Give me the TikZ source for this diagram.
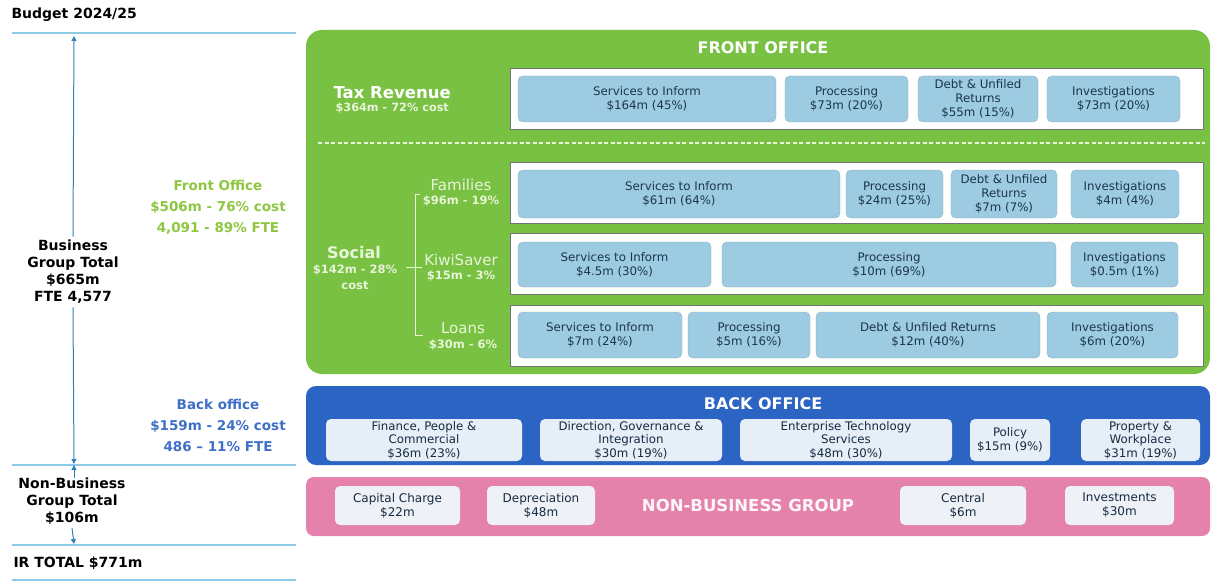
\documentclass[tikz,border=0pt]{standalone}
\usepackage{fontspec}
\setmainfont{DejaVu Sans}
\usetikzlibrary{arrows.meta}
\definecolor{fogreen}{HTML}{79C143}
\definecolor{boxblue}{HTML}{9DCBE2}
\definecolor{boxtext}{HTML}{1B3550}
\definecolor{boblue}{HTML}{2C64C4}
\definecolor{bobox}{HTML}{E6EEF7}
\definecolor{nbpink}{HTML}{E582AC}
\definecolor{nbbox}{HTML}{EEF1F6}
\definecolor{lgreen}{HTML}{8DC63F}
\definecolor{lblue}{HTML}{3E6FC7}
\definecolor{rule}{HTML}{8FCAE6}
\definecolor{arrowblue}{HTML}{2F7FB8}
\definecolor{palegreen}{HTML}{E8F5D8}
\begin{document}
\begin{tikzpicture}[x=1pt,y=-1pt,
  panel/.style={draw=none, inner sep=0pt, rounded corners=#1},
  rowbox/.style={draw=black!55, line width=0.8pt, fill=white, inner sep=0pt, minimum height=61pt, minimum width=693pt},
  svc/.style={fill=boxblue, draw=boxblue!85!black, line width=0.4pt, rounded corners=5pt, inner sep=0pt, align=center,
     text=boxtext, font=\fontsize{11.8}{14}\selectfont},
  bob/.style={fill=bobox, draw=none, rounded corners=5pt, inner sep=0pt, align=center,
     text=boxtext!80!black, font=\fontsize{11.8}{13.5}\selectfont},
  nbb/.style={fill=nbbox, draw=none, rounded corners=5pt, inner sep=0pt, align=center,
     text=boxtext!80!black, font=\fontsize{12}{14}\selectfont},
  ttl/.style={text=white, font=\bfseries\fontsize{16}{18}\selectfont},
  hrule/.style={draw=rule, line width=1.3pt},
  arr/.style={draw=arrowblue, line width=1pt, -{Triangle[length=5pt,width=5pt]}},
  lefttxt/.style={align=center, font=\bfseries\fontsize{14}{17}\selectfont},
  seglab/.style={align=center, text=palegreen, font=\fontsize{15}{17}\selectfont},
  segsub/.style={text=palegreen, font=\bfseries\fontsize{11.5}{13}\selectfont},
  brk/.style={draw=palegreen, line width=1pt}
]
\useasboundingbox (0,0) rectangle (1212,583);

% ---------- left column ----------
\node[anchor=west, font=\bfseries\fontsize{14}{16}\selectfont] (budget) at (8,15) {Budget 2024/25};
\coordinate (l1a) at (12,33); \coordinate (l1b) at (296,33);
\coordinate (l2a) at (12,465); \coordinate (l2b) at (296,465);
\coordinate (l3a) at (12,545); \coordinate (l3b) at (296,545);
\coordinate (l4a) at (12,580); \coordinate (l4b) at (296,580);
\draw[hrule] (l1a) -- (l1b);
\draw[hrule] (l2a) -- (l2b);
\draw[hrule] (l3a) -- (l3b);
\draw[draw=rule, line width=2.6pt] (l4a) -- (l4b);

\node[lefttxt] (bgt) at (73,272) {Business\\Group Total\\\$665m\\FTE 4,577};
\coordinate (topend) at (74,36);
\coordinate (midend) at (74,464);
\coordinate (midstart) at (74,478);
\coordinate (botend) at (74,544);
\draw[arr] (bgt.north) -- (topend);
\draw[arr] (bgt.south) -- (midend);
\node[lefttxt] (nbg) at (72,501) {Non-Business\\Group Total\\\$106m};
\draw[arr] (midstart) -- ([yshift=-1pt]midend);
\draw[arr] (nbg.south) -- (botend);
\node[anchor=west, font=\bfseries\fontsize{14}{16}\selectfont] (irt) at (10,563) {IR TOTAL \$771m};

\node[align=center, text=lgreen, font=\bfseries\fontsize{13.5}{21}\selectfont] (fot) at (218,207) {Front Office\\\$506m - 76\% cost\\4,091 - 89\% FTE};
\node[align=center, text=lblue, font=\bfseries\fontsize{13.5}{21}\selectfont] (bot) at (218,425) {Back office\\\$159m - 24\% cost\\486 – 11\% FTE};

% ---------- front office panel ----------
\node[panel=16pt, fill=fogreen, minimum width=904pt, minimum height=344pt] (front) at (758,202) {};
\node[ttl] (frontt) at (763,48) {FRONT OFFICE};

\node[anchor=west, text=white, font=\bfseries\fontsize{16.5}{18}\selectfont] (taxr) at (330,93) {Tax Revenue};
\node[anchor=west, text=palegreen, font=\bfseries\fontsize{11.3}{13}\selectfont] (taxs) at (332,108) {\$364m - 72\% cost};

\coordinate (dashA) at (318,143); \coordinate (dashB) at (1205,143);
\draw[draw=palegreen, line width=1.2pt, dash pattern=on 4pt off 2.5pt] (dashA) -- (dashB);

% rows
\node[rowbox] (taxrow) at (856.5,98.5) {};
\node[rowbox] (famrow) at (856.5,192.5) {};
\node[rowbox] (kiwrow) at (856.5,263.5) {};
\node[rowbox] (loarow) at (856.5,335.5) {};

% tax boxes
\node[svc, minimum width=258pt, minimum height=46pt] (tSI) at (647,99) {Services to Inform\\\$164m (45\%)};
\node[svc, minimum width=123pt, minimum height=46pt] (tPR) at (846.5,99) {Processing\\\$73m (20\%)};
\node[svc, minimum width=120pt, minimum height=46pt] (tDU) at (978,99) {Debt \& Unfiled\\Returns\\\$55m (15\%)};
\node[svc, minimum width=133pt, minimum height=46pt] (tIN) at (1113.5,99) {Investigations\\\$73m (20\%)};

% families boxes
\node[svc, minimum width=322pt, minimum height=48pt] (fSI) at (679,194) {Services to Inform\\\$61m (64\%)};
\node[svc, minimum width=97pt, minimum height=48pt] (fPR) at (894.5,194) {Processing\\\$24m (25\%)};
\node[svc, minimum width=106pt, minimum height=48pt] (fDU) at (1004,194) {Debt \& Unfiled\\Returns\\\$7m (7\%)};
\node[svc, minimum width=108pt, minimum height=48pt] (fIN) at (1125,194) {Investigations\\\$4m (4\%)};

% kiwisaver boxes
\node[svc, minimum width=193pt, minimum height=45pt] (kSI) at (614.5,264.5) {Services to Inform\\\$4.5m (30\%)};
\node[svc, minimum width=334pt, minimum height=45pt] (kPR) at (889,264.5) {Processing\\\$10m (69\%)};
\node[svc, minimum width=107pt, minimum height=45pt] (kIN) at (1124.5,264.5) {Investigations\\\$0.5m (1\%)};

% loans boxes
\node[svc, minimum width=164pt, minimum height=46pt] (lSI) at (600,335) {Services to Inform\\\$7m (24\%)};
\node[svc, minimum width=122pt, minimum height=46pt] (lPR) at (749,335) {Processing\\\$5m (16\%)};
\node[svc, minimum width=224pt, minimum height=46pt] (lDU) at (928,335) {Debt \& Unfiled Returns\\\$12m (40\%)};
\node[svc, minimum width=131pt, minimum height=46pt] (lIN) at (1112.5,335) {Investigations\\\$6m (20\%)};

% social labels
\node[align=center, text=palegreen, font=\bfseries\fontsize{16}{18}\selectfont] (soc) at (354,253) {Social};
\node[align=center, text=palegreen, font=\bfseries\fontsize{11.5}{16}\selectfont] (socs) at (355,277) {\$142m - 28\%\\cost};
\node[seglab] (fam) at (461,185) {Families};
\node[segsub] (fams) at (461,201) {\$96m - 19\%};
\node[seglab] (kiw) at (461,260) {KiwiSaver};
\node[segsub] (kiws) at (461,276) {\$15m - 3\%};
\node[seglab] (loa) at (463,328) {Loans};
\node[segsub] (loas) at (463,345) {\$30m - 6\%};

\coordinate (bt1) at (420,194); \coordinate (bt2) at (415,194);
\coordinate (bb1) at (415,335); \coordinate (bb2) at (423,335);
\coordinate (bm1) at (406,267); \coordinate (bm2) at (422,267);
\draw[brk] (bt1) -- (bt2) -- (bb1) -- (bb2);
\draw[brk] (bm1) -- (bm2);

% ---------- back office ----------
\node[panel=10pt, fill=boblue, minimum width=904pt, minimum height=79pt] (back) at (758,425.5) {};
\node[ttl] (backt) at (763,404) {BACK OFFICE};
\node[bob, minimum width=196pt, minimum height=42pt] (b1) at (424,440) {Finance, People \&\\Commercial\\\$36m (23\%)};
\node[bob, minimum width=182pt, minimum height=42pt] (b2) at (631,440) {Direction, Governance \&\\Integration\\\$30m (19\%)};
\node[bob, minimum width=212pt, minimum height=42pt] (b3) at (846,440) {Enterprise Technology\\Services\\\$48m (30\%)};
\node[bob, minimum width=80pt, minimum height=42pt] (b4) at (1010,440) {Policy\\\$15m (9\%)};
\node[bob, minimum width=119pt, minimum height=42pt] (b5) at (1140.5,440) {Property \&\\Workplace\\\$31m (19\%)};

% ---------- non-business ----------
\node[panel=8pt, fill=nbpink, minimum width=904pt, minimum height=59pt] (nb) at (758,506.5) {};
\node[ttl, text=white!92!nbpink, font=\bfseries\fontsize{16.5}{18}\selectfont] (nbt) at (748,505) {NON-BUSINESS GROUP};
\node[nbb, minimum width=125pt, minimum height=39pt] (n1) at (397.5,505.5) {Capital Charge\\\$22m};
\node[nbb, minimum width=108pt, minimum height=39pt] (n2) at (541,505.5) {Depreciation\\\$48m};
\node[nbb, minimum width=126pt, minimum height=39pt] (n3) at (963,505.5) {Central\\\$6m};
\node[nbb, minimum width=109pt, minimum height=39pt] (n4) at (1119.5,505.5) {Investments\\\$30m};
\end{tikzpicture}
\end{document}
